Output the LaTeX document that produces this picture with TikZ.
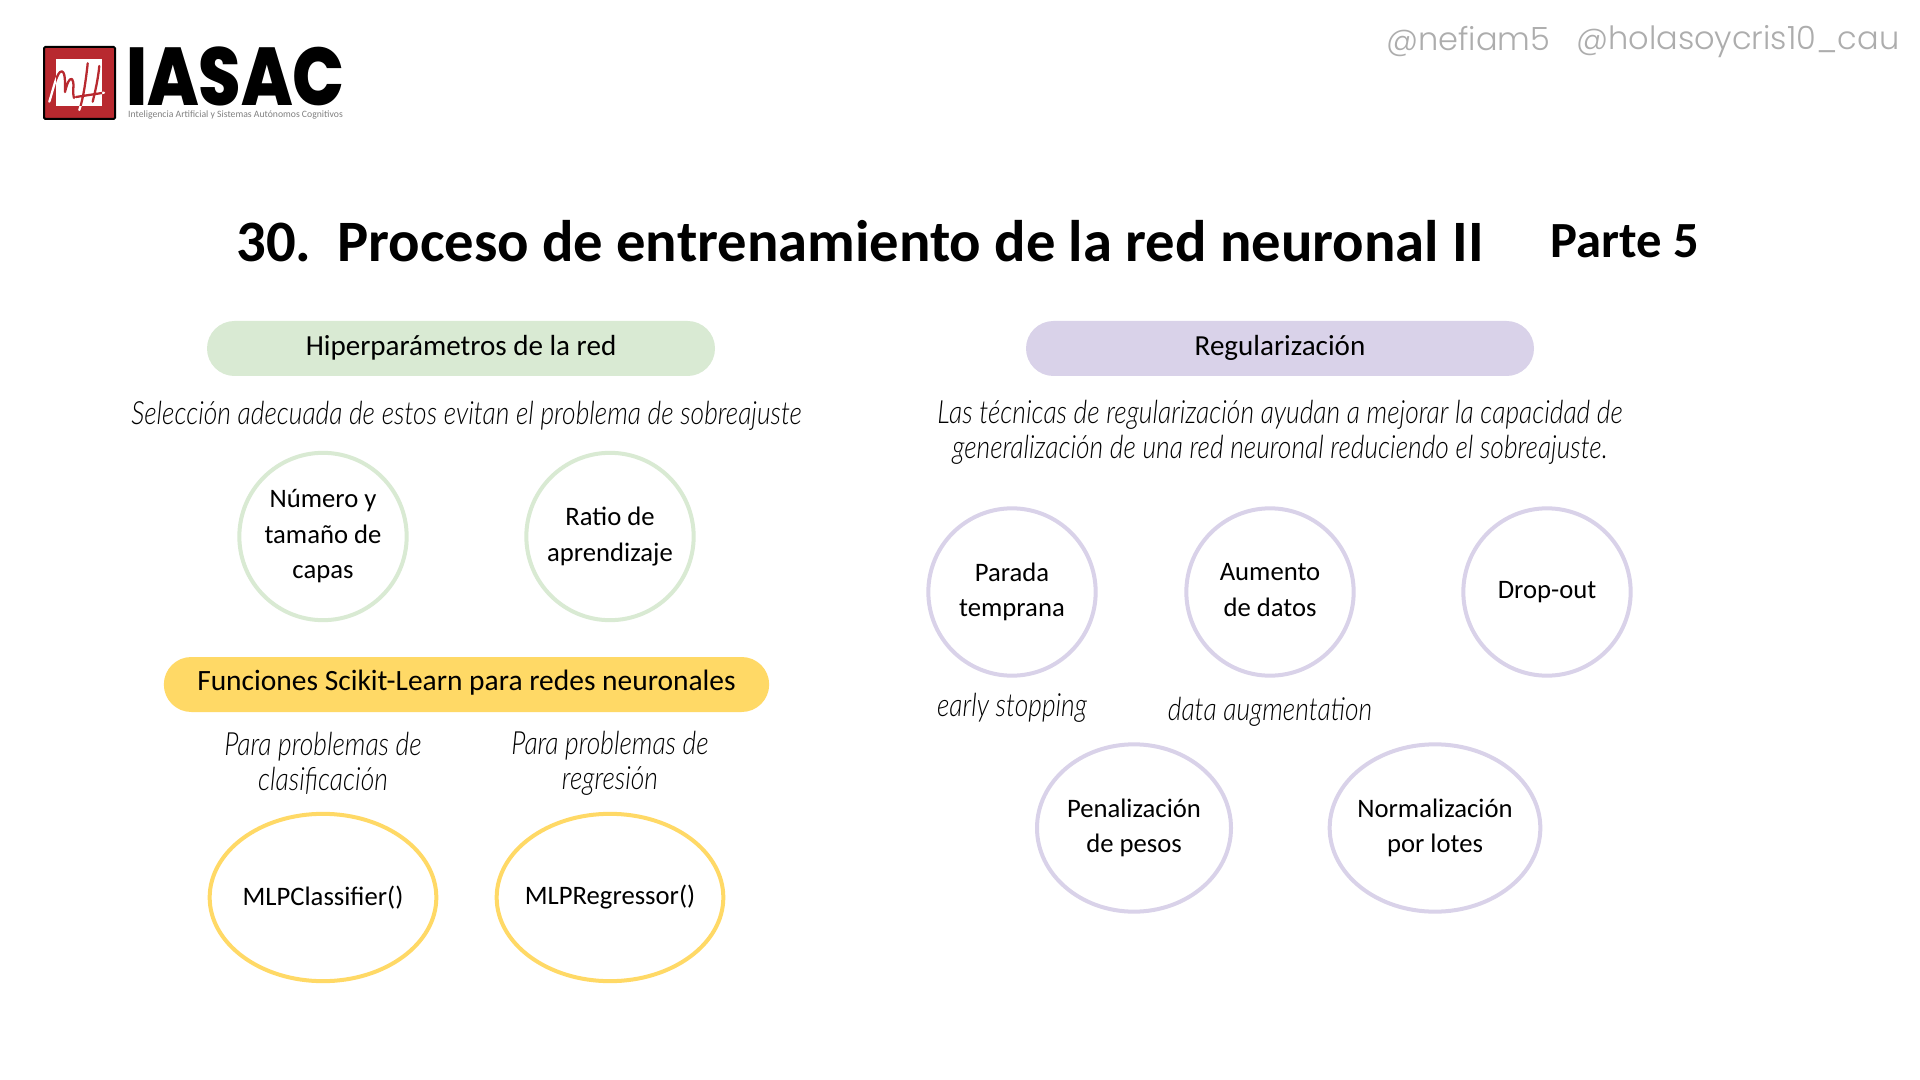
\documentclass[tikz,border=0pt]{standalone}
\usepackage{fontspec}
\usepackage{graphicx}
\usetikzlibrary{shapes.geometric}
\setmainfont{Carlito}
\newfontfamily\hand{Poppins Light}
\newfontfamily\heavy{Poppins ExtraBold}
\newfontfamily\noteit[FakeStretch=0.825]{Lato Light Italic}
\definecolor{hgreen}{HTML}{D9EAD3}
\definecolor{hpurple}{HTML}{D9D2E9}
\definecolor{hyellow}{HTML}{FFD966}
\definecolor{logored}{HTML}{B8292F}
\newcommand{\mhpath}{(49.3,101.7) .. controls (53,90) and (56,76) .. (60,72) .. controls (66,68) and (65,85) .. (65,92) .. controls (67,84) and (69,78) .. (72,79) .. controls (75,82) and (72,92) .. (74,98)
 (87.7,63.3) .. controls (86,80) and (83,100) .. (79.3,110)
 (99.3,66) .. controls (98,80) and (95,92) .. (92.7,101.7)
 (76,97) -- (104,92.7)}
\tikzset{
 x=0.75pt,y=-0.75pt,
 pill/.style={rounded corners=20.6pt,inner sep=0,minimum height=41.25pt,align=center,font=\fontsize{21.8}{26}\selectfont},
 bub/.style={ellipse,line width=3pt,inner xsep=-20pt,inner ysep=-6pt,align=center,minimum height=125.5pt,font=\fontsize{20}{26.6}\selectfont},
 note/.style={inner sep=0,align=center,font=\noteit\fontsize{24}{26.4}\selectfont},
 mh/.style={line width=1.7pt,line cap=round,line join=round},
}
\begin{document}
\begin{tikzpicture}
\useasboundingbox (0,0) rectangle (1920,1080);
\fill[white] (0,0) rectangle (1920,1080);
% logo
\draw[fill=logored,draw=black,line width=1.5pt,rounded corners=1pt] (44,47) rectangle (115,119);
\fill[white] (56,59) rectangle (102,106);
\draw[mh,white] \mhpath;
\begin{scope}
\clip (56,59) rectangle (102,106);
\draw[mh,logored] \mhpath;
\end{scope}
\node[inner sep=0] (logoword) at (235.5,76) {\resizebox{164pt}{44pt}{\heavy IASAC}};
\node[inner sep=0,text=gray] (logosub) at (235.5,115) {\resizebox{161pt}{!}{\fontsize{7}{8}\selectfont Inteligencia Artificial y Sistemas Autónomos Cognitivos}};
\node[inner sep=0,text=black!32,anchor=west,font=\hand\fontsize{24}{28}\selectfont] (h1) at (1386,41.5) {@nefiam5};
\node[inner sep=0,text=black!32,anchor=west,font=\hand\fontsize{24}{28}\selectfont] (h2) at (1576,41.5) {@holasoycris10\_cau};
% title
\node[inner sep=0,anchor=west,font=\fontsize{44}{50}\selectfont\bfseries] (title) at (236,241) {30.\hspace{6pt} Proceso de entrenamiento de la red neuronal II};
\node[inner sep=0,anchor=west,font=\fontsize{38}{44}\selectfont\bfseries] (parte) at (1550,241) {Parte 5};
% pills
\node[pill,fill=hgreen,minimum width=381pt] (p1) at (461,348.5) {\raisebox{-5.4pt}[0pt][0pt]{Hiperparámetros de la red}};
\node[pill,fill=hpurple,minimum width=381pt] (p2) at (1280,348.5) {\raisebox{-5.4pt}[0pt][0pt]{Regularización}};
\node[pill,fill=hyellow,minimum width=454pt] (p3) at (466.5,684.5) {\raisebox{-4.4pt}[0pt][0pt]{\fontsize{22.1}{26}\selectfont Funciones Scikit-Learn para redes neuronales}};
% notes
\node[note] (n1) at (466.5,416) {Selección adecuada de estos evitan el problema de sobreajuste};
\node[note] (n2) at (1280,432) {Las técnicas de regularización ayudan a mejorar la capacidad de\\generalización de una red neuronal reduciendo el sobreajuste.};
\node[note] (n3) at (323,763) {Para problemas de\\clasificación};
\node[note] (n4) at (610,763) {Para problemas de\\regresión};
\node[note] (n5) at (1012,708) {early stopping};
\node[note] (n6) at (1270,712) {data augmentation};
% bubbles
\node[bub,draw=hgreen,minimum width=125.5pt] (b1) at (323,536.5) {Número y\\tamaño de\\capas};
\node[bub,draw=hgreen,minimum width=125.5pt] (b2) at (610,536.5) {Ratio de\\aprendizaje};
\node[bub,draw=hpurple,minimum width=125.5pt] (b3) at (1012,592) {Parada\\temprana};
\node[bub,draw=hpurple,minimum width=125.5pt] (b4) at (1270,592) {Aumento\\de datos\vphantom{p}};
\node[bub,draw=hpurple,minimum width=125.5pt] (b5) at (1547,592) {Drop-out};
\node[bub,draw=hpurple,minimum width=145.5pt] (b6) at (1134,828) {Penalización\\de pesos};
\node[bub,draw=hpurple,minimum width=158pt] (b7) at (1435,828) {Normalización\\por lotes};
\node[bub,draw=hyellow,minimum width=170pt] (b8) at (323,897.5) {MLPClassifier()};
\node[bub,draw=hyellow,minimum width=170pt] (b9) at (610,897.5) {MLPRegressor()};
\end{tikzpicture}
\end{document}
